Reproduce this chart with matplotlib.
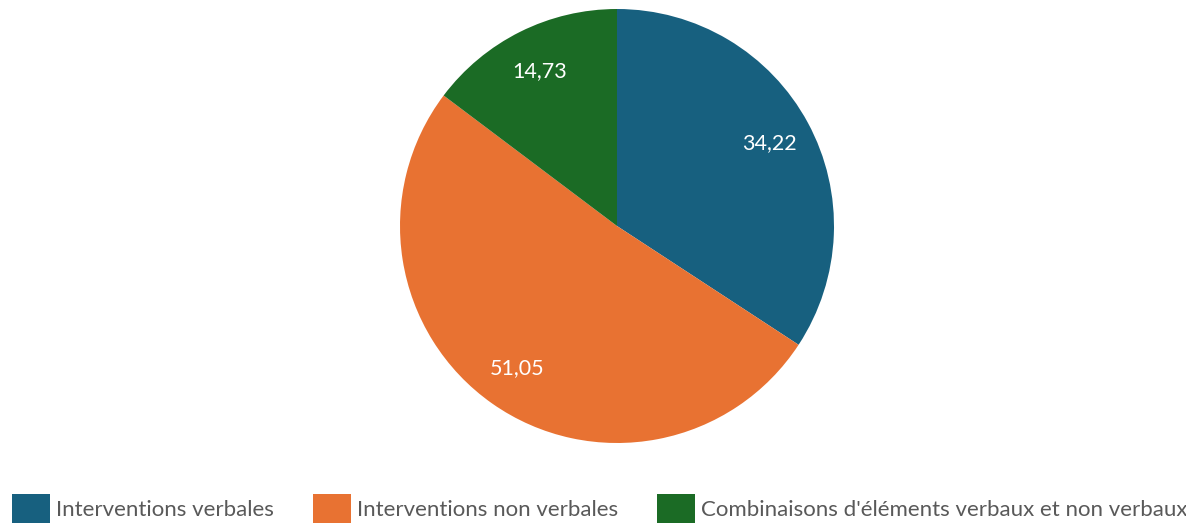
import matplotlib.pyplot as plt

categories = ["Interventions verbales", "Interventions non verbales",
              "Combinaisons d'éléments verbaux et non verbaux"]
values = [34.22, 51.05, 14.73]
colors = ["#17607F", "#E87232", "#1B6B25"]

plt.rcParams['font.family'] = ['Lato', 'DejaVu Sans']

W, H = 1186, 531
fig = plt.figure(figsize=(W / 100, H / 100), dpi=100)

# pie centred at (617, 226) px with a radius of 217 px
r = 217
ax = fig.add_axes([(617 - r) / W, (H - 226 - r) / H, 2 * r / W, 2 * r / H])
wedges, texts = ax.pie(values, colors=colors, startangle=90, counterclock=False,
                       radius=1, labels=[f"{v:.2f}".replace(".", ",") for v in values],
                       labeldistance=0.8, wedgeprops=dict(linewidth=0))
for t in texts:
    t.set_color("white")
    t.set_fontsize(15.5)
    t.set_ha("center")
    t.set_va("center")
ax.set_xlim(-1, 1)
ax.set_ylim(-1, 1)
ax.set_aspect("equal")
ax.axis("off")

fs = 16
fpx = fs * 100 / 72
leg = fig.legend(wedges, categories, loc="upper left",
                 bbox_to_anchor=(12 / W, (H - 494) / H), ncol=3, frameon=False,
                 fontsize=fs, borderpad=0, borderaxespad=0,
                 handlelength=38 / fpx, handleheight=37 / fpx,
                 handletextpad=6 / fpx, columnspacing=39 / fpx)
for t in leg.get_texts():
    t.set_color("#595959")

fig.savefig("out.png", dpi=100)
